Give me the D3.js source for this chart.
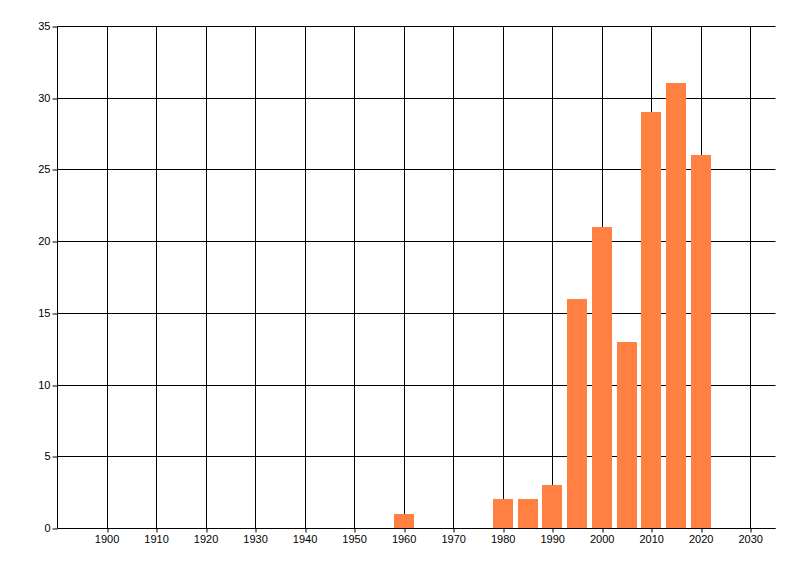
<!DOCTYPE html>
<html>
<head>
<meta charset="utf-8">
<script src="https://cdn.jsdelivr.net/npm/d3@7"></script>
<style>
  html, body { margin: 0; padding: 0; background: #fff; }
  svg { display: block; }
  text { font-family: "Liberation Sans", Arial, sans-serif; font-size: 11px; fill: #000; }
</style>
</head>
<body>
<svg id="chart" width="800" height="576"></svg>
<script>
const years = [1960, 1980, 1985, 1990, 1995, 2000, 2005, 2010, 2015, 2020];
const counts = [1, 2, 2, 3, 16, 21, 13, 29, 31, 26];
const xTicks = [1900, 1910, 1920, 1930, 1940, 1950, 1960, 1970, 1980, 1990, 2000, 2010, 2020, 2030];
const yTicks = [0, 5, 10, 15, 20, 25, 30, 35];

const svg = d3.select('#chart');
const margin = { left: 57, right: 25, top: 26, bottom: 48 };
const width = 800;
const height = 576;

const x = d3.scaleLinear().domain([1890, 2035]).range([margin.left, width - margin.right]);
const y = d3.scaleLinear().domain([0, 35]).range([height - margin.bottom, margin.top]);

const px = (v) => Math.round(v) + 0.5;
const barWidth = x(1894) - x(1890);

// grid
const grid = svg.append('g').attr('stroke', '#000').attr('stroke-width', 1);
grid.selectAll('.vx')
  .data(xTicks)
  .join('line')
  .attr('x1', (d) => px(x(d)))
  .attr('x2', (d) => px(x(d)))
  .attr('y1', px(y(35)))
  .attr('y2', px(y(0)));
grid.selectAll('.hy')
  .data(yTicks)
  .join('line')
  .attr('x1', px(x(1890)))
  .attr('x2', px(x(2035)))
  .attr('y1', (d) => px(y(d)))
  .attr('y2', (d) => px(y(d)));

// bars
svg.append('g')
  .selectAll('rect')
  .data(years.map((yr, i) => ({ yr, v: counts[i] })))
  .join('rect')
  .attr('x', (d) => Math.round(x(d.yr) - barWidth / 2))
  .attr('width', Math.round(barWidth))
  .attr('y', (d) => Math.round(y(d.v)))
  .attr('height', (d) => Math.round(y(0)) - Math.round(y(d.v)))
  .attr('fill', '#ff8040');

// axes
const xAxis = svg.append('g')
  .attr('transform', `translate(0,${px(y(0))})`)
  .call(d3.axisBottom(x).tickValues(xTicks).tickFormat(d3.format('d')).tickSize(4).tickPadding(3));
xAxis.select('.domain').attr('d', `M${px(x(1890))},0H${px(x(2035))}`);
xAxis.selectAll('.tick line').attr('transform', (d) => `translate(${px(x(d)) - x(d)},0)`);

const yAxis = svg.append('g')
  .attr('transform', `translate(${px(x(1890))},0)`)
  .call(d3.axisLeft(y).tickValues(yTicks).tickSize(5).tickPadding(2));
yAxis.select('.domain').attr('d', `M0,${px(y(35))}V${px(y(0))}`);
yAxis.selectAll('.tick line').attr('transform', (d) => `translate(0,${px(y(d)) - y(d)})`);

svg.selectAll('.tick text').attr('font-family', '"Liberation Sans", Arial, sans-serif').attr('font-size', 11);
</script>
</body>
</html>
